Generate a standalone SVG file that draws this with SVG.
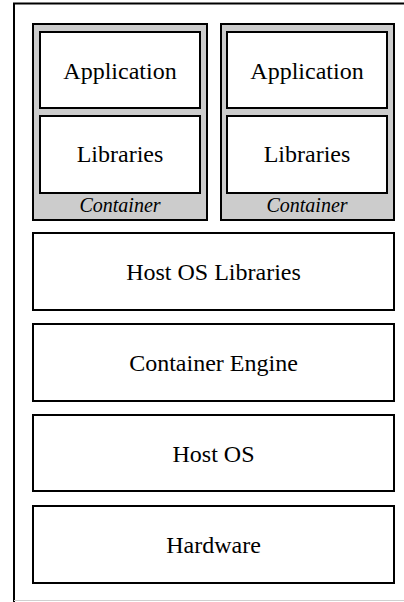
<svg xmlns="http://www.w3.org/2000/svg" width="404" height="602" viewBox="0 0 404 602">
<style>
.box{fill:#ffffff;stroke:#000000;stroke-width:2}
.ctr{fill:#cccccc;stroke:#000000;stroke-width:2}
.lbl{font-family:'Liberation Serif','Times New Roman',serif;font-size:24px;fill:#000000;text-anchor:middle}
.cl{font-family:'Liberation Serif','Times New Roman',serif;font-size:20px;font-style:italic;fill:#000000;text-anchor:middle}
</style>
<rect x="0" y="0" width="404" height="602" fill="#ffffff"/>
<g id="frame">
<path d="M14,602 V3.5 H404" fill="none" stroke="#000000" stroke-width="2"/>
<line x1="14" y1="600.5" x2="404" y2="600.5" stroke="#d0d0d0" stroke-width="1"/>
</g>
<g id="container1">
<rect class="ctr" x="33" y="24" width="174" height="196"/>
<text class="cl" x="120" y="212">Container</text>
</g>
<g id="app1">
<rect class="box" x="40" y="32" width="160" height="76"/>
<text class="lbl" x="120" y="79">Application</text>
</g>
<g id="lib1">
<rect class="box" x="40" y="116" width="160" height="77"/>
<text class="lbl" x="120" y="162">Libraries</text>
</g>
<g id="container2">
<rect class="ctr" x="221" y="24" width="173" height="196"/>
<text class="cl" x="307" y="212">Container</text>
</g>
<g id="app2">
<rect class="box" x="227" y="32" width="160" height="76"/>
<text class="lbl" x="307" y="79">Application</text>
</g>
<g id="lib2">
<rect class="box" x="227" y="116" width="160" height="77"/>
<text class="lbl" x="307" y="162">Libraries</text>
</g>
<g id="hostoslib">
<rect class="box" x="33" y="233" width="361" height="77"/>
<text class="lbl" x="213.5" y="280">Host OS Libraries</text>
</g>
<g id="engine">
<rect class="box" x="33" y="324" width="361" height="77"/>
<text class="lbl" x="213.5" y="371">Container Engine</text>
</g>
<g id="hostos">
<rect class="box" x="33" y="415" width="361" height="76"/>
<text class="lbl" x="213.5" y="462">Host OS</text>
</g>
<g id="hardware">
<rect class="box" x="33" y="506" width="361" height="77"/>
<text class="lbl" x="213.5" y="553">Hardware</text>
</g>
<g id="connectors"></g>
</svg>
